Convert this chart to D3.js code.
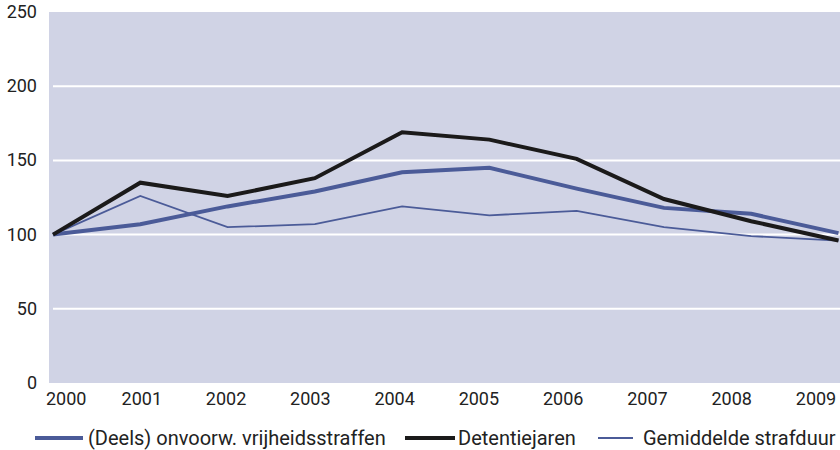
<!DOCTYPE html>
<html><head><meta charset="utf-8">
<script src="https://cdn.jsdelivr.net/npm/d3@7"></script>
<style>body{margin:0;background:#fff}svg{display:block}text{font-family:Roboto,"Liberation Sans",sans-serif;fill:#222}</style>
</head><body><svg id="c" width="840" height="450"></svg>
<script>
const years = [2000,2001,2002,2003,2004,2005,2006,2007,2008,2009];
const deels = [100,107,119,129,142,145,131,118,114,101];
const detentie = [100,135,126,138,169,164,151,124,109,96];
const gemiddeld = [100,126,105,107,119,113,116,105,99,96];
const yTicks = [0,50,100,150,200,250];
const seriesNames = ["(Deels) onvoorw. vrijheidsstraffen","Detentiejaren","Gemiddelde strafduur"];

const svg = d3.select("#c");
const W = 840;
const plot = {left:49, top:12, right:840, bottom:383};
const x = d3.scalePoint().domain(years).range([53, 838.5]);
const xl = d3.scalePoint().domain(years).range([57.5, 816]);
const y = d3.scaleLinear().domain([0,250]).range([plot.bottom, plot.top]);

svg.append("rect").attr("x",plot.left).attr("y",plot.top)
  .attr("width",plot.right-plot.left).attr("height",plot.bottom-plot.top).attr("fill","#d0d3e5");

svg.append("g").selectAll("line").data(yTicks.filter(d=>d>0&&d<250)).join("line")
  .attr("x1",53).attr("x2",W).attr("y1",d=>y(d)).attr("y2",d=>y(d))
  .attr("stroke","#fff").attr("stroke-width",2);

svg.append("g").selectAll("text").data(yTicks).join("text")
  .attr("x",37).attr("y",d=>y(d)+6).attr("text-anchor","end")
  .attr("font-size",18).text(d=>d);

svg.append("g").selectAll("text").data(years).join("text")
  .attr("x",(d,i)=> i===0 ? 46 : xl(d)).attr("y",405)
  .attr("text-anchor",(d,i)=> i===0 ? "start" : "middle")
  .attr("font-size",18).text(d=>d);

const line = d3.line().x((d,i)=>x(years[i])).y(d=>y(d));
const series = [
  {name:seriesNames[0], values:deels, color:"#4b5b98", w:4},
  {name:seriesNames[1], values:detentie, color:"#1b1a1a", w:4},
  {name:seriesNames[2], values:gemiddeld, color:"#4b5b98", w:1.8}
];
svg.append("clipPath").attr("id","pc").append("rect")
  .attr("x",plot.left).attr("y",plot.top).attr("width",plot.right-plot.left).attr("height",plot.bottom-plot.top);
svg.append("g").attr("clip-path","url(#pc)").selectAll("path").data([series[2],series[0],series[1]]).join("path")
  .attr("d",d=>line(d.values)).attr("fill","none").attr("stroke",d=>d.color)
  .attr("stroke-width",d=>d.w).attr("stroke-linejoin","miter");

const leg = [
  {s:series[0], x1:35, x2:83, tx:88},
  {s:series[1], x1:405, x2:455, tx:458},
  {s:series[2], x1:598, x2:633, tx:643}
];
const lg = svg.append("g");
leg.forEach(l=>{
  lg.append("line").attr("x1",l.x1).attr("x2",l.x2).attr("y1",438).attr("y2",438)
    .attr("stroke",l.s.color).attr("stroke-width",l.s.w);
  lg.append("text").attr("x",l.tx).attr("y",445).attr("font-size",20).text(l.s.name);
});
</script></body></html>
